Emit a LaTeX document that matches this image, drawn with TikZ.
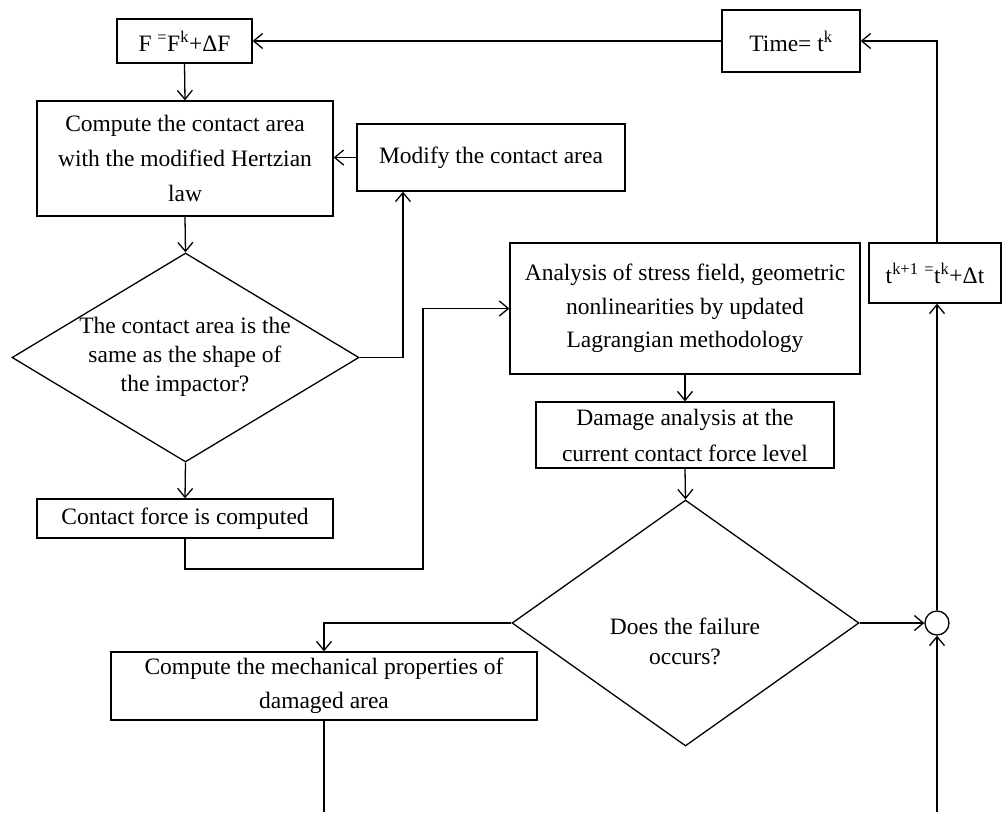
\documentclass[tikz,border=0pt]{standalone}
\usepackage{fontspec}
\setmainfont{Liberation Serif}
\usetikzlibrary{arrows.meta,shapes.geometric}
\begin{document}
\begin{tikzpicture}[x=1pt,y=-1pt,
  line width=1.3pt,
  every node/.style={font=\fontsize{23.5}{35}\selectfont},
  box/.style={draw, rectangle, inner sep=0pt, align=center, line width=1.3pt},
  dia/.style={draw, diamond, inner sep=0pt, line width=1.3pt},
  dtext/.style={align=center, inner sep=0pt},
  arr/.style={-{Straight Barb[length=9pt,width=15pt]}},
]
\useasboundingbox (0,0) rectangle (1002,812);

% boxes
\node[box, minimum width=135pt, minimum height=44pt] (f) at (184.5,41) {F \textsuperscript{=}F\textsuperscript{k}+ΔF};
\node[box, minimum width=138pt, minimum height=62pt] (time) at (791,41) {Time= t\textsuperscript{k}};
\node[box, minimum width=296pt, minimum height=115pt] (comp) at (185,158.5)
  {Compute the contact area\\with the modified Hertzian\\law};
\node[box, minimum width=268pt, minimum height=67pt] (mod) at (491,157.5) {Modify the contact area};
\node[dia, minimum width=347pt, minimum height=209pt] (d1) at (185.5,357.5) {};
\node[dtext, font=\fontsize{23.5}{29}\selectfont] (d1t) at (185,357)
  {The contact area is the\\same as the shape of\\the impactor?};
\node[box, minimum width=296pt, minimum height=39pt] (cf) at (185,518.5) {Contact force is computed};
\node[box, minimum width=350pt, minimum height=131pt, font=\fontsize{23.5}{33.5}\selectfont] (an) at (685,308.5)
  {Analysis of stress field, geometric\\nonlinearities by updated\\Lagrangian methodology};
\node[box, minimum width=298pt, minimum height=66pt, font=\fontsize{23.5}{36}\selectfont] (dm) at (685,435)
  {Damage analysis at the\\current contact force level};
\node[dia, minimum width=347pt, minimum height=246pt] (d2) at (685.5,623) {};
\node[dtext, font=\fontsize{23.5}{30}\selectfont] (d2t) at (685,641)
  {Does the failure\\occurs?};
\node[box, minimum width=426pt, minimum height=68pt, font=\fontsize{23.5}{34}\selectfont] (mech) at (324,686)
  {Compute the mechanical properties of\\damaged area};
\node[draw, circle, minimum size=24pt, inner sep=0pt, line width=1.3pt] (circ) at (937,623) {};
\node[box, minimum width=132pt, minimum height=60pt] (tb) at (935,273)
  {t\textsuperscript{k+1} \textsuperscript{=}t\textsuperscript{k}+Δt};

% helper coordinates
\coordinate (c1) at (185,569);
\coordinate (c2) at (423,569);
\coordinate (c3) at (403,357.5);
\coordinate (bl) at (324,812);
\coordinate (br) at (937,812);
\coordinate (tr) at (937,41);

% connectors
\draw[arr] (time.west) -- (f.east);
\draw[arr] (f.south) -- (comp.north);
\draw[arr] (mod.west) -- (mod.west -| comp.east);
\draw[arr] (comp.south) -- (d1.north);
\draw[arr] (d1.east) -- (c3) -- (c3 |- mod.south);
\draw[arr] (d1.south) -- (cf.north);
\draw[arr] (cf.south) -- (c1) -- (c2) |- (an.west);
\draw[arr] (an.south) -- (dm.north);
\draw[arr] (dm.south) -- (d2.north);
\draw[arr] (d2.west) -| (mech.north);
\draw[arr] (d2.east) -- (circ.west);
\draw (mech.south) -- (bl);
\draw[arr] (br) -- (circ.south);
\draw[arr] (circ.north) -- (circ.north |- tb.south);
\draw[arr] (circ.north |- tb.north) -- (tr) -- (time.east);
\end{tikzpicture}
\end{document}
